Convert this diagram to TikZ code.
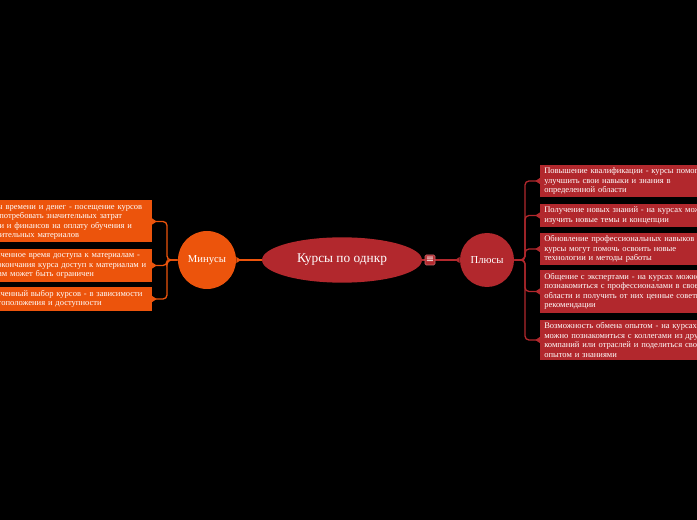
\documentclass[tikz,border=0pt]{standalone}
\usepackage{fontspec}
\setmainfont{Liberation Serif}
\newfontfamily\symfont{DejaVu Sans}
\usetikzlibrary{arrows.meta,positioning,shapes.geometric}
\definecolor{minusorange}{RGB}{236,84,12}
\definecolor{plusred}{RGB}{178,40,45}

\begin{document}
\begin{tikzpicture}[
  x=0.75pt, y=-0.75pt,
  >={Triangle[reversed,length=3.5pt,width=4.5pt]},
  topic/.style={ellipse, fill=plusred, minimum width=120pt, minimum height=34pt, text=white, font=\fontsize{10}{12}\selectfont},
  minuscirc/.style={circle, fill=minusorange, minimum size=43.5pt, inner sep=0pt, text=white, font=\fontsize{8}{10}\selectfont},
  pluscirc/.style={circle, fill=plusred, minimum size=40.5pt, inner sep=0pt, text=white, font=\fontsize{8}{10}\selectfont},
  mbox/.style={fill=minusorange, anchor=east, text=white, align=left, text width=130.5pt, inner xsep=3pt, inner ysep=2.3pt, font=\fontsize{6.4}{7.1}\selectfont},
  pbox/.style={fill=plusred, anchor=west, text=white, align=left, text width=170pt, inner xsep=3pt, inner ysep=2.3pt, font=\fontsize{6.4}{7.1}\selectfont},
  mlink/.style={draw=minusorange, line width=1pt, rounded corners=3pt},
  plink/.style={draw=plusred, line width=1pt, rounded corners=3pt},
  menu/.style={fill=plusred, draw=plusred!70!white, line width=0.4pt, rounded corners=1pt, minimum size=7.5pt, inner sep=0pt, text=white, font=\symfont\fontsize{7.5}{7.5}\selectfont}
]
\fill[black] (0,0) rectangle (697,520);
\useasboundingbox (0,0) rectangle (697,520);

% centre
\node[topic] (topic) at (342,260) {Курсы по однкр};
\node[minuscirc] (minus) at (207,260) {Минусы};
\node[pluscirc] (plus) at (487,260) {Плюсы};

% minus side
\node[mbox] (m1) at (152,221.5) {Затраты времени и денег - посещение курсов\\может потребовать значительных затрат\\времени и финансов на оплату обучения и\\дополнительных материалов};
\node[mbox] (m2) at (152,265.5) {Ограниченное время доступа к материалам -\\после окончания курса доступ к материалам и\\ресурсам может быть ограничен};
\node[mbox] (m3) at (152,299) {Ограниченный выбор курсов - в зависимости\\от местоположения и доступности};

% plus side
\node[pbox] (p1) at (540,181) {Повышение квалификации - курсы помогают\\улучшить свои навыки и знания в\\определенной области};
\node[pbox] (p2) at (540,215.5) {Получение новых знаний - на курсах можно\\изучить новые темы и концепции};
\node[pbox] (p3) at (540,249) {Обновление профессиональных навыков -\\курсы могут помочь освоить новые\\технологии и методы работы};
\node[pbox] (p4) at (540,291.5) {Общение с экспертами - на курсах можно\\познакомиться с профессионалами в своей\\области и получить от них ценные советы и\\рекомендации};
\node[pbox] (p5) at (540,340) {Возможность обмена опытом - на курсах\\можно познакомиться с коллегами из других\\компаний или отраслей и поделиться своим\\опытом и знаниями};

\coordinate (mj) at (167,260);
\coordinate (pj) at (525,260);

\draw[mlink,->] (topic.west) -- (minus.east);
\draw[plink,->] (topic.east) -- (plus.west);
\node[menu] (tog) at (430,260) {≡};

\foreach \b in {m1,m2,m3}
  \draw[mlink,->] (minus.west) -- (mj) |- (\b.east);
\foreach \b in {p1,p2,p3,p4,p5}
  \draw[plink,->] (plus.east) -- (pj) |- (\b.west);
\end{tikzpicture}
\end{document}
